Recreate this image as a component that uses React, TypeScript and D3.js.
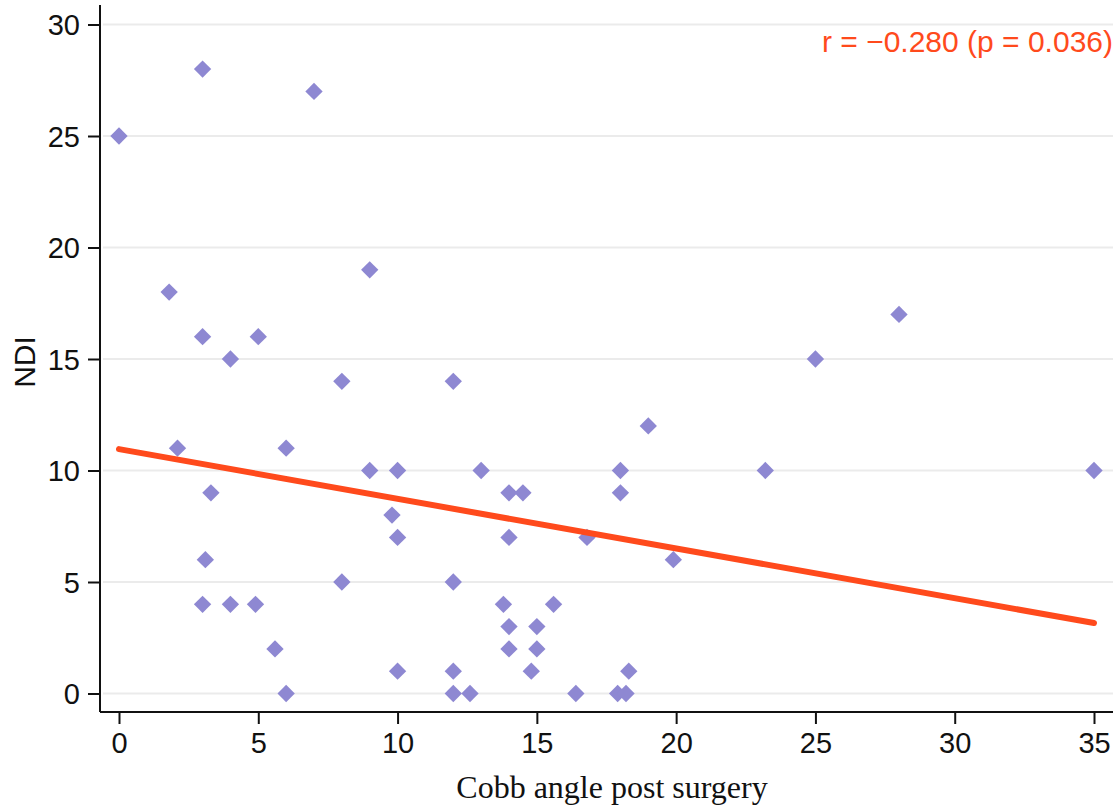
import React, { useEffect, useRef } from 'react';
import * as d3 from 'd3';

// Cobb angle post surgery (x) vs NDI (y)
const cobbAngle = [
  0, 3, 7, 1.8, 3, 4, 5, 9, 8, 12,
  2.1, 6, 9, 10, 3.3, 9.8, 10, 3.1, 3, 4,
  4.9, 8, 5.6, 6, 10, 12, 12, 12, 12.6, 13,
  14, 14.5, 14, 13.8, 14, 14, 15, 15, 14.8, 15.6,
  16.4, 16.8, 18, 18, 19, 19.9, 17.9, 18.2, 18.3, 23.2,
  25, 28, 35,
];
const ndi = [
  25, 28, 27, 18, 16, 15, 16, 19, 14, 14,
  11, 11, 10, 10, 9, 8, 7, 6, 4, 4,
  4, 5, 2, 0, 1, 5, 1, 0, 0, 10,
  9, 9, 7, 4, 3, 2, 3, 2, 1, 4,
  0, 7, 10, 9, 12, 6, 0, 0, 1, 10,
  15, 17, 10,
];

// fitted regression line end points
const fitX = [0, 35];
const fitY = [10.96, 3.16];

const xTicks = [0, 5, 10, 15, 20, 25, 30, 35];
const yTicks = [0, 5, 10, 15, 20, 25, 30];

const annotation = 'r = \u22120.280 (p = 0.036)';

const W = 1119;
const H = 810;

const App: React.FC = () => {
  const ref = useRef<SVGSVGElement>(null);

  useEffect(() => {
    if (!ref.current) return;
    const svg = d3.select(ref.current);
    svg.selectAll('*').remove();

    const x = d3.scaleLinear().domain([0, 35]).range([119, 1094]);
    const y = d3.scaleLinear().domain([0, 30]).range([693.5, 24.5]);

    const axisLeftX = 100;
    const axisBottomY = 712;
    const plotRight = 1113;
    const sans = '"Liberation Sans", Arial, sans-serif';

    // grid lines
    svg.append('g')
      .selectAll('line')
      .data(yTicks)
      .join('line')
      .attr('x1', axisLeftX + 3)
      .attr('x2', plotRight)
      .attr('y1', d => y(d))
      .attr('y2', d => y(d))
      .attr('stroke', '#ebebeb')
      .attr('stroke-width', 2);

    // y axis
    const yAxis = svg.append('g')
      .attr('transform', `translate(${axisLeftX},0)`)
      .call(d3.axisLeft(y).tickValues(yTicks).tickSize(12).tickPadding(8));
    yAxis.select('.domain')
      .attr('d', `M0,5V${axisBottomY}`)
      .attr('stroke', '#111')
      .attr('stroke-width', 2);
    yAxis.selectAll('.tick line').attr('stroke', '#111').attr('stroke-width', 2);
    yAxis.selectAll('.tick text')
      .attr('fill', '#111')
      .style('font-family', sans)
      .style('font-size', '29px')
      .attr('dy', '0.35em');

    // x axis
    const xAxis = svg.append('g')
      .attr('transform', `translate(0,${axisBottomY})`)
      .call(d3.axisBottom(x).tickValues(xTicks).tickSize(12).tickPadding(8));
    xAxis.select('.domain')
      .attr('d', `M${axisLeftX},0H${plotRight}`)
      .attr('stroke', '#111')
      .attr('stroke-width', 2);
    xAxis.selectAll('.tick line').attr('stroke', '#111').attr('stroke-width', 2);
    xAxis.selectAll('.tick text')
      .attr('fill', '#111')
      .style('font-family', sans)
      .style('font-size', '29px');

    // points
    const pts = cobbAngle.map((c, i) => ({ c, n: ndi[i] }));
    const diamond = d3.symbol().type(d3.symbolSquare).size(150);
    svg.append('g')
      .selectAll('path')
      .data(pts)
      .join('path')
      .attr('d', diamond)
      .attr('transform', d => `translate(${x(d.c)},${y(d.n)}) rotate(45)`)
      .attr('fill', '#8e88d2');

    // regression line
    const line = d3.line<number>()
      .x((_, i) => x(fitX[i]))
      .y(d => y(d));
    svg.append('path')
      .datum(fitY)
      .attr('d', line)
      .attr('fill', 'none')
      .attr('stroke', '#ff4a1c')
      .attr('stroke-width', 6)
      .attr('stroke-linecap', 'round');

    // annotation
    svg.append('text')
      .attr('x', plotRight)
      .attr('y', 52)
      .attr('text-anchor', 'end')
      .attr('fill', '#ff4a1c')
      .style('font-family', sans)
      .style('font-size', '30px')
      .text(annotation);

    // axis titles
    svg.append('text')
      .attr('transform', `translate(35,${362}) rotate(-90)`)
      .attr('text-anchor', 'middle')
      .attr('fill', '#111')
      .style('font-family', sans)
      .style('font-size', '30px')
      .text('NDI');

    svg.append('text')
      .attr('x', 612)
      .attr('y', 798)
      .attr('text-anchor', 'middle')
      .attr('fill', '#111')
      .style('font-family', '"Liberation Serif", "Times New Roman", serif')
      .style('font-size', '32px')
      .text('Cobb angle post surgery');
  }, []);

  return (
    <div style={{ position: 'absolute', left: 0, top: 0, width: W, height: H, background: '#fff' }}>
      <svg ref={ref} width={W} height={H} />
    </div>
  );
};

export default App;
